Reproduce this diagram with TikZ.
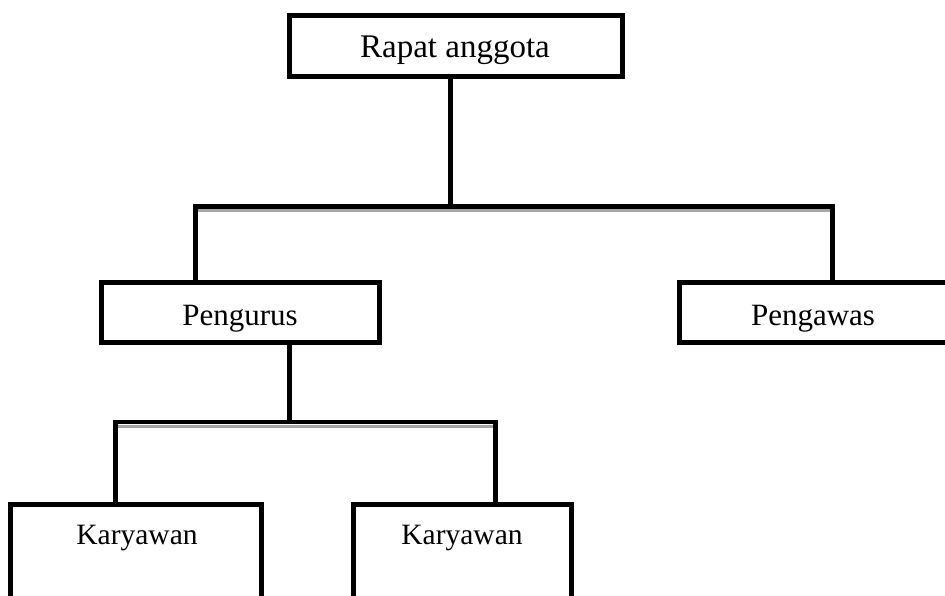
\documentclass[tikz,border=0pt]{standalone}
\usepackage{fontspec}
\setmainfont{Liberation Serif}
\tikzset{
  box/.style={draw=black, line width=5pt, rectangle, inner sep=0pt, outer sep=0pt},
  conn/.style={draw=black, line width=5pt},
  bar/.style={draw=black, line width=4.5pt},
  shadowbar/.style={draw=black!35, line width=3pt},
  lbl/.style={anchor=base, inner sep=0pt}
}
\begin{document}
\begin{tikzpicture}[x=1pt, y=-1pt]
\useasboundingbox (0,0) rectangle (945,595);
% boxes
\node[box, minimum width=333pt, minimum height=61pt] (rapat) at (456,46) {};
\node[box, minimum width=278.5pt, minimum height=59.5pt] (pengurus) at (240.25,312.25) {};
\node[box, minimum width=268.5pt, minimum height=59.5pt] (pengawas) at (813.75,312.25) {};
\node[box, minimum width=251pt, minimum height=115.5pt] (kar1) at (136,562.25) {};
\node[box, minimum width=218.5pt, minimum height=115.5pt] (kar2) at (462.25,562.25) {};
% labels
\node[lbl, font=\fontsize{33}{36}\selectfont] (trapat) at (455,57) {Rapat anggota};
\node[lbl, font=\fontsize{31}{34}\selectfont] (tpengurus) at (240,325) {Pengurus};
\node[lbl, font=\fontsize{31}{34}\selectfont] (tpengawas) at (813,325) {Pengawas};
\node[lbl, font=\fontsize{29.5}{32}\selectfont] (tkar1) at (137,544) {Karyawan};
\node[lbl, font=\fontsize{29.5}{32}\selectfont] (tkar2) at (462,544) {Karyawan};
% junction coordinates
\coordinate (j1) at (450.5,206.5);
\coordinate (j1l) at (195.5,206.5);
\coordinate (j1r) at (832.5,206.5);
\coordinate (j2) at (289.5,422);
\coordinate (j2l) at (115,422);
\coordinate (j2r) at (495,422);
% shadows of bars
\draw[shadowbar] ([yshift=-4pt]j1l) -- ([yshift=-4pt,xshift=-2pt]j1r);
\draw[shadowbar] ([yshift=-4.5pt]j2l) -- ([yshift=-4.5pt,xshift=-2pt]j2r);
% connectors
\draw[conn] (rapat.south -| j1) -- (j1);
\draw[bar] ([xshift=-2.5pt]j1l) -- ([xshift=2.5pt]j1r);
\draw[conn] (j1l) -- (pengurus.north -| j1l);
\draw[conn] (j1r) -- (pengawas.north -| j1r);
\draw[conn] (pengurus.south -| j2) -- (j2);
\draw[bar] ([xshift=-2.5pt]j2l) -- ([xshift=2.5pt]j2r);
\draw[conn] (j2l) -- (kar1.north -| j2l);
\draw[conn] (j2r) -- (kar2.north -| j2r);
\end{tikzpicture}
\end{document}
